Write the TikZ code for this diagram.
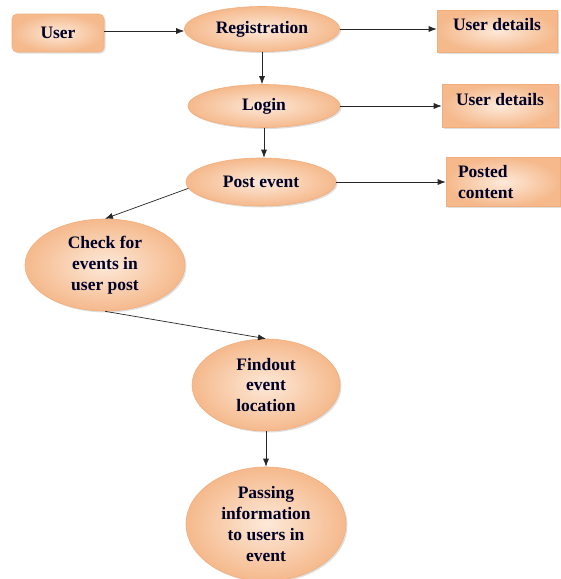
\documentclass[tikz,border=0pt]{standalone}
\usepackage{fontspec}
\setmainfont{Liberation Serif}
\usetikzlibrary{shapes.geometric,arrows.meta,shadows}
\definecolor{peachin}{HTML}{FDE9D9}
\definecolor{peachout}{HTML}{F5B98C}
\definecolor{peachline}{HTML}{F2AE7A}
\tikzset{
  base/.style={draw=peachline, line width=0.6pt, inner color=peachin, outer color=peachout,
    drop shadow={shadow xshift=1.5pt, shadow yshift=-1.5pt, fill=black!25},
    font=\fontsize{17.5}{20.8}\selectfont\bfseries, text=black!85!blue, align=center, inner sep=0pt},
  boxnode/.style={base, rectangle},
  rbox/.style={base, rectangle, rounded corners=5pt},
  ell/.style={base, ellipse},
  arr/.style={-{Latex[length=8pt,width=6pt]}, line width=0.7pt, draw=black!85}
}
\begin{document}
\begin{tikzpicture}[x=1pt,y=-1pt]
\useasboundingbox (0,0) rectangle (561,579);
\node[rbox, minimum width=92pt, minimum height=38pt] (user) at (58,33) {User};
\node[ell, minimum width=155pt, minimum height=45pt] (reg) at (262,29) {Registration};
\node[boxnode, minimum width=120pt, minimum height=42pt, text depth=14pt] (ud1) at (497,31) {User details};
\node[ell, minimum width=152pt, minimum height=43pt] (login) at (264,106) {Login};
\node[boxnode, minimum width=116pt, minimum height=43pt, text depth=14pt] (ud2) at (500,106) {User details};
\node[ell, minimum width=150pt, minimum height=48pt] (post) at (261,182) {Post event};
\node[boxnode, minimum width=114pt, minimum height=49pt, align=left, text width=90pt] (pc) at (503,182) {Posted\\content};
\node[ell, minimum width=160pt, minimum height=92pt] (check) at (105,265) {Check for\\events in\\user post};
\node[ell, minimum width=148pt, minimum height=92pt] (find) at (266,385) {Findout\\event\\location};
\node[ell, minimum width=160pt, minimum height=114pt] (pass) at (266,524) {Passing\\information\\to users in\\event};
\draw[arr] (user.east |- 0,31) -- (reg.west |- 0,31);
\draw[arr] (reg.east) -- (ud1.west |- reg.east);
\draw[arr] (reg.south) -- (login.north -| reg.south);
\draw[arr] (login.east) -- (ud2.west |- login.east);
\draw[arr] (login.south) -- (post.north -| login.south);
\draw[arr] (post.east) -- (pc.west |- post.east);
\draw[arr] (post.185) -- (check.north);
\draw[arr] (check.south) -- (find.north);
\draw[arr] (find.south) -- (pass.north);
\end{tikzpicture}
\end{document}
